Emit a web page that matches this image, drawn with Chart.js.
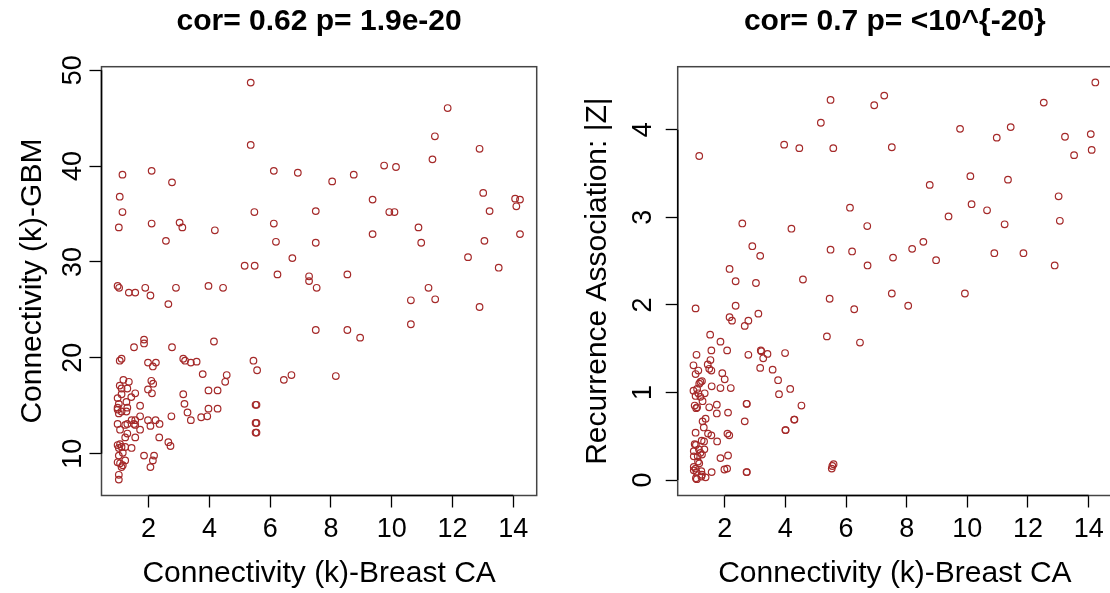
<!DOCTYPE html>
<html>
<head>
<meta charset="utf-8">
<script src="https://cdn.jsdelivr.net/npm/chart.js@4.4.1/dist/chart.umd.min.js"></script>
<style>
  html, body { margin: 0; padding: 0; background: #fff; overflow: hidden; width: 1110px; height: 593px; }
  #left { position: absolute; left: 0; top: 0; width: 560px; height: 593px; }
  #right { position: absolute; left: 560px; top: 0; width: 570px; height: 593px; }
</style>
</head>
<body>
<div id="left"><canvas id="gbmChart"></canvas></div>
<div id="right"><canvas id="zChart"></canvas></div>
<script>
// left panel: connectivity in breast CA vs connectivity in GBM
var breastK1 = [5.36, 5.36, 1.14, 2.10, 2.77, 1.05, 1.14, 1.02, 2.10, 3.02, 3.11, 2.57, 4.18, 6.12, 6.91, 5.48, 6.12, 6.19, 7.50, 7.50,
  5.16, 5.49, 6.73, 6.24, 7.28, 7.28, 11.84, 11.42, 12.89, 11.34, 9.75, 10.14, 8.75, 8.04, 9.37, 9.92, 10.09, 13.01, 13.22, 14.06,
  14.22, 14.10, 14.22, 9.37, 10.88, 10.97, 13.05, 12.51, 13.52, 8.54, 7.53, 11.21, 10.63, 11.43, 12.89, 10.63, 7.50, 8.54, 8.96, 8.16,
  0.98, 1.03, 1.35, 1.56, 1.89, 2.06, 2.90, 2.65, 3.97, 4.45, 1.85, 1.85, 1.52, 2.77, 4.15, 1.11, 1.05, 1.98, 2.14, 2.24,
  3.14, 3.20, 3.39, 3.58, 5.45, 5.57, 6.45, 6.70, 3.78, 4.57, 4.52, 3.97, 4.27, 3.14, 3.18, 3.28, 3.39, 3.73, 3.93, 3.97,
  4.27, 5.52, 5.55, 5.52, 5.55, 5.52, 5.55, 2.09, 2.15, 1.98, 2.11, 2.75, 2.36, 1.98, 2.06, 2.23, 1.72, 1.72, 1.72, 2.35,
  2.65, 2.72, 1.85, 2.18, 2.14, 2.06, 1.17, 1.35, 1.05, 1.11, 1.30, 1.56, 1.43, 1.11, 0.98, 1.02, 1.27, 0.98, 1.30, 0.98,
  1.11, 1.27, 1.02, 1.44, 1.56, 1.52, 1.30, 1.23, 0.98, 1.06, 1.56, 1.30, 1.23, 1.56, 1.44, 0.98, 1.06, 1.11, 1.02, 1.23,
  1.15, 1.02, 0.98, 1.06, 1.23, 1.15, 1.11, 1.02, 1.02];
var gbmK = [48.7, 42.2, 39.1, 39.5, 38.3, 36.8, 35.2, 33.6, 34.0, 34.1, 33.6, 32.2, 33.3, 39.5, 39.3, 35.2, 34.0, 32.1, 35.3, 32.0,
  29.6, 29.6, 30.4, 28.7, 28.5, 28.0, 46.05, 43.1, 41.8, 40.7, 40.05, 39.9, 39.1, 38.4, 36.5, 35.2, 35.2, 37.2, 35.3, 36.6,
  36.5, 35.8, 32.9, 32.9, 33.6, 32.0, 32.2, 30.5, 29.4, 28.7, 27.3, 27.3, 26.0, 26.1, 25.3, 23.5, 22.9, 22.9, 22.1, 18.1,
  27.5, 27.3, 26.8, 26.8, 27.3, 26.5, 27.3, 25.6, 27.5, 27.3, 21.9, 21.5, 21.1, 21.1, 21.7, 19.9, 19.7, 19.5, 19.1, 19.5,
  19.9, 19.7, 19.5, 19.6, 19.7, 18.7, 17.7, 18.2, 18.3, 18.2, 17.5, 16.6, 16.6, 16.2, 15.2, 14.3, 13.5, 13.8, 13.9, 14.7,
  14.7, 15.1, 15.1, 13.2, 13.2, 12.2, 12.2, 17.6, 17.3, 16.7, 16.3, 13.9, 13.1, 13.5, 12.9, 13.5, 15.0, 13.9, 12.5, 11.7,
  11.2, 10.8, 9.8, 9.8, 9.3, 8.6, 17.7, 17.5, 17.1, 16.8, 16.8, 16.3, 15.9, 16.2, 15.8, 15.2, 15.4, 14.8, 14.8, 14.6,
  14.4, 14.4, 14.2, 13.5, 13.5, 13.1, 13.1, 13.0, 13.1, 12.5, 13.0, 12.1, 11.7, 11.7, 10.6, 10.9, 11.0, 10.7, 10.6, 10.7,
  10.1, 9.8, 9.1, 9.0, 9.3, 8.8, 8.6, 7.8, 7.3];

// right panel: connectivity in breast CA vs recurrence association |Z|
var breastK2 = [5.49, 5.17, 3.96, 4.46, 5.58, 1.16, 6.13, 2.58, 4.20, 6.70, 2.91, 3.17, 5.49, 6.20, 6.71, 2.16, 2.36, 3.03, 4.58, 5.46,
  6.27, 1.04, 2.36, 3.11, 2.16, 2.24, 2.78, 2.66, 5.37, 6.46, 1.52, 1.86, 2.08, 1.56, 1.07, 2.78, 3.19, 3.21, 3.41, 3.27,
  3.99, 0.97, 1.13, 1.44, 1.53, 1.49, 1.56, 1.04, 1.92, 2.00, 3.17, 3.58, 3.76, 4.16, 3.79, 4.53, 1.25, 1.20, 1.16, 1.57,
  1.86, 2.20, 0.97, 1.09, 1.13, 1.34, 1.04, 1.20, 1.27, 1.01, 1.09, 1.06, 1.49, 1.74, 2.72, 2.73, 1.74, 2.11, 1.37, 1.27,
  2.66, 4.29, 4.30, 1.31, 4.00, 4.01, 1.04, 1.45, 1.56, 2.09, 2.15, 1.24, 1.32, 1.75, 1.01, 1.05, 1.15, 1.33, 0.98, 1.20,
  1.25, 0.98, 1.11, 1.86, 2.11, 1.12, 1.16, 0.98, 1.04, 0.98, 1.99, 2.08, 5.59, 5.55, 5.53, 1.07, 1.23, 1.57, 2.72, 2.73,
  1.05, 1.23, 1.37, 1.25, 1.08, 14.22, 7.26, 6.93, 12.52, 9.76, 11.43, 10.97, 13.22, 14.07, 13.52, 14.10, 7.51, 10.10, 11.34, 8.76,
  13.01, 10.14, 10.65, 9.38, 13.05, 11.23, 8.55, 8.18, 7.55, 8.97, 10.89, 11.85, 12.88, 7.51, 9.92, 8.05];
var recZ = [4.34, 4.08, 3.83, 3.79, 3.79, 3.70, 3.11, 2.93, 2.87, 2.90, 2.67, 2.56, 2.63, 2.61, 2.45, 2.41, 2.27, 2.25, 2.29, 2.07,
  1.95, 1.96, 1.99, 1.90, 1.86, 1.82, 1.82, 1.76, 1.64, 1.57, 1.66, 1.58, 1.48, 1.48, 1.43, 1.43, 1.48, 1.47, 1.44, 1.39,
  1.45, 1.31, 1.25, 1.32, 1.37, 1.27, 1.25, 1.21, 1.22, 1.15, 1.28, 1.26, 1.14, 1.04, 0.98, 0.85, 1.13, 1.12, 1.10, 1.07,
  1.05, 1.05, 1.02, 1.04, 0.99, 0.99, 0.96, 0.95, 0.90, 0.85, 0.83, 0.82, 0.83, 0.86, 0.87, 0.87, 0.76, 0.77, 0.70, 0.67,
  0.67, 0.69, 0.69, 0.60, 0.57, 0.57, 0.54, 0.53, 0.51, 0.53, 0.51, 0.45, 0.44, 0.44, 0.41, 0.40, 0.35, 0.35, 0.33, 0.31,
  0.29, 0.27, 0.27, 0.25, 0.28, 0.21, 0.19, 0.15, 0.13, 0.11, 0.12, 0.13, 0.18, 0.16, 0.13, 0.09, 0.10, 0.09, 0.09, 0.09,
  0.02, 0.04, 0.03, 0.06, 0.01, 4.54, 4.39, 4.28, 4.31, 4.01, 4.03, 3.91, 3.92, 3.95, 3.71, 3.77, 3.80, 3.47, 3.43, 3.37,
  3.24, 3.15, 3.08, 3.01, 2.96, 2.92, 2.72, 2.64, 2.54, 2.51, 2.59, 2.59, 2.45, 2.13, 2.13, 1.99];

var xTicks = [2, 4, 6, 8, 10, 12, 14];
var gbmTicks = [10, 20, 30, 40, 50];
var zTicks = [0, 1, 2, 3, 4];

var FONT = "'Liberation Sans', Arial, Helvetica, sans-serif";
Chart.defaults.font.family = FONT;
Chart.defaults.color = '#000';

// R style frame: grey box plus black axis line from first to last tick
var framePlugin = {
  id: 'frame',
  afterDatasetsDraw: function(chart, args, opts) {
    var a = chart.chartArea, ctx = chart.ctx;
    var sx = chart.scales.x, sy = chart.scales.y;
    ctx.save();
    ctx.lineWidth = 1.5;
    ctx.strokeStyle = '#444';
    ctx.strokeRect(a.left, a.top, a.right - a.left, a.bottom - a.top);
    ctx.strokeStyle = '#000';
    ctx.beginPath();
    ctx.moveTo(sx.getPixelForValue(opts.xt[0]), a.bottom);
    ctx.lineTo(sx.getPixelForValue(opts.xt[opts.xt.length - 1]), a.bottom);
    ctx.moveTo(a.left, sy.getPixelForValue(opts.yt[0]));
    ctx.lineTo(a.left, sy.getPixelForValue(opts.yt[opts.yt.length - 1]));
    ctx.stroke();
    ctx.restore();
  }
};

function makeChart(id, xs, ys, p) {
  var pts = xs.map(function(x, i) { return { x: x, y: ys[i] }; });
  return new Chart(id, {
    type: 'scatter',
    data: {
      datasets: [{
        data: pts,
        pointStyle: 'circle',
        pointRadius: 3.3,
        borderWidth: 1.2,
        borderColor: '#A52A2A',
        backgroundColor: 'rgba(0,0,0,0)'
      }]
    },
    options: {
      animation: false,
      responsive: true,
      maintainAspectRatio: false,
      layout: { padding: { left: 0, right: p.padRight, top: 0, bottom: 0 } },
      plugins: {
        legend: { display: false },
        tooltip: { enabled: false },
        title: {
          display: true,
          text: p.title,
          fullSize: false,
          color: '#000',
          font: { size: 30, weight: 'bold' },
          padding: { top: 4, bottom: 26.7 }
        },
        frame: { xt: xTicks, yt: p.yTicks }
      },
      scales: {
        x: {
          type: 'linear',
          min: 0.45,
          max: 14.77,
          afterFit: function(s) { s.height = 97.5; },
          afterBuildTicks: function(s) { s.ticks = xTicks.map(function(v) { return { value: v }; }); },
          grid: { drawOnChartArea: false, drawTicks: true, tickLength: 12, tickColor: '#000', tickWidth: 1.3 },
          border: { display: false },
          ticks: { font: { size: 27 }, padding: 6, color: '#000', maxRotation: 0 },
          title: { display: true, text: 'Connectivity (k)-Breast CA', font: { size: 30 }, color: '#000', padding: { top: 0, bottom: 1 } }
        },
        y: {
          type: 'linear',
          min: p.yMin,
          max: p.yMax,
          afterFit: function(s) { s.width = p.yWidth; },
          afterBuildTicks: function(s) { s.ticks = p.yTicks.map(function(v) { return { value: v }; }); },
          grid: { drawOnChartArea: false, drawTicks: true, tickLength: 12, tickColor: '#000', tickWidth: 1.3 },
          border: { display: false },
          ticks: { font: { size: 27 }, padding: p.yPad, color: '#000', minRotation: 90, maxRotation: 90, crossAlign: 'center' },
          title: { display: true, text: p.yTitle, font: { size: 30 }, color: '#000', padding: { top: p.yTitlePad, bottom: 0 } }
        }
      }
    },
    plugins: [framePlugin]
  });
}

makeChart('gbmChart', breastK1, gbmK, {
  title: 'cor= 0.62 p= 1.9e-20',
  yTitle: 'Connectivity (k)-GBM',
  yTicks: gbmTicks,
  yMin: 5.64, yMax: 50.36,
  yWidth: 101.5, yPad: 1, yTitlePad: 15,
  padRight: 23.3
});

makeChart('zChart', breastK2, recZ, {
  title: 'cor= 0.7 p= <10^{-20}',
  yTitle: 'Recurrence Association: |Z|',
  yTicks: zTicks,
  yMin: -0.177, yMax: 4.72,
  yWidth: 117.7, yPad: 15, yTitlePad: 20,
  padRight: 18
});
</script>
</body>
</html>
